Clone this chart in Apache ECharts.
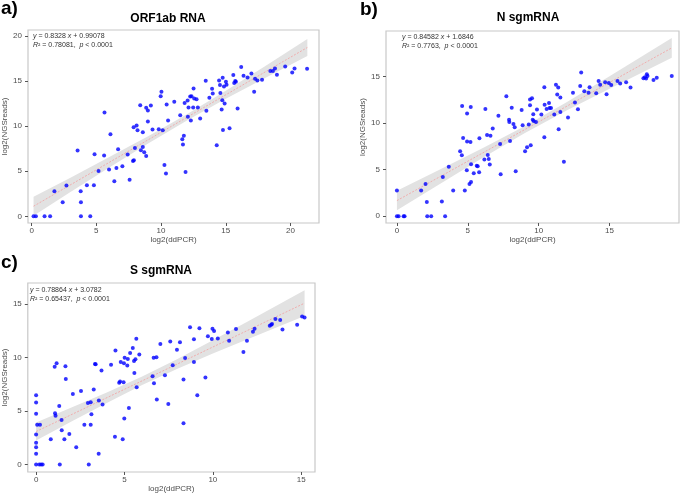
<!DOCTYPE html>
<html>
<head>
<meta charset="utf-8">
<script src="https://cdn.jsdelivr.net/npm/echarts@6/dist/echarts.min.js"></script>
<style>
  html, body { margin: 0; padding: 0; background: #fff; }
  #chart { width: 685px; height: 494px; }
</style>
</head>
<body>
<div id="chart"></div>
<script>
// a) ORF1ab RNA  [log2(ddPCR), log2(NGSreads)]
const orfPts = [
  [0.15,0],[0.33,0],[1.0,0],[1.43,0],[3.81,0],[4.53,0],
  [1.76,2.78],[2.69,3.41],[2.40,1.56],[3.79,2.78],[3.81,1.56],[3.55,7.30],[4.27,3.44],
  [4.81,3.44],[4.86,6.89],[5.17,5.04],[5.63,11.52],[5.60,6.74],[5.98,5.19],[6.09,9.11],
  [6.39,3.89],[6.55,5.37],[6.68,7.44],[7.01,5.56],[7.42,6.85],[7.57,4.07],[7.83,6.15],
  [7.88,9.89],[7.90,6.22],[7.98,7.59],[8.11,10.07],[8.18,9.56],[8.39,12.33],[8.44,7.33],
  [8.59,7.70],[8.59,9.33],[8.70,7.11],[8.85,6.70],[8.85,12.04],[8.98,11.74],[8.98,10.52],
  [9.21,12.30],[9.34,9.63],[9.82,9.67],[9.97,13.33],[10.03,13.81],[10.13,9.56],[10.26,5.70],
  [10.38,4.74],[10.43,12.41],[10.54,10.63],[11.02,12.70],[11.48,11.22],[11.64,8.56],[11.69,7.96],
  [11.76,8.93],[11.82,12.56],[11.89,4.93],[12.05,12.85],[12.07,11.04],[12.12,12.07],[12.25,13.30],
  [12.30,10.63],[12.35,13.33],[12.48,12.07],[12.51,14.19],[12.56,13.07],[12.74,13.0],[12.84,12.07],
  [13.02,10.85],[13.45,15.04],[13.50,11.70],[13.73,13.15],[13.94,14.15],[13.99,13.63],[14.30,7.89],
  [14.48,15.07],[14.55,14.56],[14.58,13.67],[14.68,11.85],[14.73,12.89],[14.76,15.37],[14.78,9.59],
  [14.86,14.41],[14.91,12.52],[15.01,14.93],[15.06,14.59],[15.29,9.78],[15.58,15.67],[15.65,14.78],
  [15.73,15.00],[15.78,14.93],[15.91,11.96],[16.19,16.56],[16.37,15.59],[16.68,15.41],[16.98,15.85],
  [17.19,13.81],[17.26,15.26],[17.44,15.07],[17.80,15.15],[18.44,16.11],[18.64,16.11],[18.80,16.41],
  [18.95,15.70],[19.59,16.63],[20.13,15.96],[20.31,16.41],[21.28,16.37]
];
// b) N sgmRNA
const nPts = [
  [0,0],[0.12,0],[0.47,0],[0.54,0],[2.14,0],[2.42,0],[3.40,0],
  [0,2.76],[1.71,2.76],[2.02,3.47],[2.11,1.54],[3.17,1.58],[3.24,4.22],[3.66,5.33],[3.97,2.76],
  [4.46,6.98],[4.58,6.55],[4.60,11.85],[4.67,8.41],[4.79,2.76],[4.93,4.94],[4.95,8.02],[4.95,11.03],
  [5.12,3.47],[5.19,7.98],[5.21,11.74],[5.23,5.59],[5.23,3.69],[5.42,4.62],[5.63,5.44],[5.70,5.37],
  [5.80,4.73],[5.82,8.38],[6.17,6.09],[6.24,11.53],[6.36,8.74],[6.41,6.59],[6.48,6.16],[6.55,5.55],
  [6.60,8.66],[6.76,9.42],[7.16,10.81],[7.28,7.77],[7.32,4.51],[7.72,12.89],[7.91,10.38],[7.93,10.13],
  [7.98,8.09],[8.10,11.67],[8.22,9.92],[8.31,9.56],[8.38,4.83],[8.80,11.42],[8.87,9.77],[9.04,6.98],
  [9.18,7.41],[9.30,9.85],[9.39,12.53],[9.39,11.92],[9.44,7.63],[9.53,12.67],[9.58,10.38],[9.62,10.96],
  [9.65,10.24],[9.81,10.13],[9.88,11.46],[10.19,10.92],[10.40,13.86],[10.42,11.99],[10.40,8.49],
  [10.56,11.53],[10.73,12.17],[10.77,11.64],[10.87,11.64],[11.10,10.92],[11.22,14.14],[11.31,13.07],
  [11.38,13.82],[11.41,9.35],[11.53,12.75],[11.53,11.21],[11.78,5.87],[12.07,10.60],[12.42,13.28],
  [12.56,12.21],[12.77,11.49],[12.93,14.00],[13.00,15.43],[13.22,13.43],[13.52,13.28],[13.59,13.86],
  [14.06,13.21],[14.23,14.54],[14.34,14.14],[14.69,14.39],[14.79,13.10],[14.95,14.32],[15.12,14.11],
  [15.56,14.54],[15.75,14.25],[16.17,14.39],[16.48,13.82],[17.39,14.82],[17.49,14.93],[17.58,14.79],
  [17.63,15.25],[17.68,15.07],[18.10,14.64],[18.33,14.89],[19.39,15.07]
];
// c) S sgmRNA
const sPts = [
  [0,0],[0,1.01],[0,1.62],[0,2.04],[0,2.80],[0,4.73],[0,5.79],[0,6.46],
  [0.06,3.72],[0.22,3.72],[0.18,0],[0.28,0],[0.37,0],[0.83,2.35],[1.05,9.12],[1.07,4.79],[1.10,4.54],
  [1.16,9.45],[1.31,5.46],[1.34,0],[1.44,4.15],[1.45,3.20],[1.60,2.35],[1.66,9.18],[1.68,7.99],
  [1.88,2.84],[2.08,6.59],[2.27,1.62],[2.54,6.86],[2.73,3.72],[2.93,5.73],[2.98,0],[3.09,5.82],
  [3.09,3.72],[3.13,4.70],[3.26,7.01],[3.33,9.39],[3.37,9.36],[3.54,1.01],[3.55,5.98],[3.70,8.78],
  [3.76,5.61],[4.24,9.30],[4.46,2.59],[4.49,10.64],[4.70,7.62],[4.75,7.74],[4.79,9.57],[4.90,2.35],
  [4.95,7.68],[4.97,9.45],[4.99,4.30],[5.01,9.97],[5.16,9.24],[5.19,9.85],[5.25,5.27],[5.32,10.40],
  [5.47,10.88],[5.54,9.66],[5.56,8.54],[5.62,9.82],[5.67,11.74],[5.69,7.20],[5.84,10.27],[6.59,8.23],
  [6.65,9.97],[6.67,7.59],[6.81,10.0],[6.83,6.07],[7.03,11.25],[7.29,8.32],[7.48,5.64],[7.59,11.49],
  [7.73,9.27],[7.97,10.70],[8.14,11.40],[8.34,7.93],[8.34,3.84],[8.43,9.94],[8.71,12.80],[8.93,11.68],
  [8.93,9.57],[9.12,6.46],[9.24,12.71],[9.58,8.11],[9.72,11.98],[9.94,11.71],[9.98,12.68],[10.07,12.47],
  [10.28,11.77],[10.85,12.32],[10.92,11.55],[11.31,12.65],[11.73,10.49],[11.93,11.55],[12.27,12.38],
  [12.36,12.68],[13.22,12.96],[13.30,13.05],[13.35,13.11],[13.54,13.57],[13.81,13.48],[13.94,12.59],
  [14.77,13.05],[15.05,13.81],[15.19,13.72]
];

// fitted lines and grey confidence bands
const orfFit = [[0.15,1.12],[21.3,18.73]];
const orfBandX = [0.15,3,6,9,12,15,18,21.3];
const orfBandLo = [0.07,2.69,5.41,8.09,10.63,13.03,15.33,17.78];
const orfBandHi = [2.17,4.29,6.57,8.89,11.33,13.93,16.63,19.68];

const nFit = [[0,1.685],[19.39,18.085]];
const nBandX = [0,3,6,9,12,15,19.39];
const nBandLo = [0.64,3.44,6.24,8.92,11.38,13.69,17.04];
const nBandHi = [2.74,5.00,7.28,9.68,12.28,15.05,19.14];

const sFit = [[0,3.078],[15.19,15.058]];
const sBandX = [0,2,4,6,8,10,12,15.19];
const sBandLo = [2.23,4.01,5.75,7.41,8.94,10.35,11.72,13.86];
const sBandHi = [3.93,5.31,6.71,8.21,9.84,11.59,13.36,16.26];

const xTicksA = [0,5,10,15,20];
const yTicksA = [0,5,10,15,20];
const xTicksB = [0,5,10,15,20];
const yTicksB = [0,5,10,15];
const xTicksC = [0,5,10,15];
const yTicksC = [0,5,10,15];

const FONT = '"Liberation Sans", Arial, Helvetica, sans-serif';

const panels = [
  { pts: orfPts, fit: orfFit, bx: orfBandX, lo: orfBandLo, hi: orfBandHi,
    grid: { left: 27, top: 30, width: 292, height: 193 },
    x: [-0.28, 22.2], y: [-0.74, 20.67], xt: xTicksA, yt: yTicksA, yGap: 19 },
  { pts: nPts, fit: nFit, bx: nBandX, lo: nBandLo, hi: nBandHi,
    grid: { left: 386, top: 31, width: 293, height: 192 },
    x: [-0.77, 19.9], y: [-0.72, 19.9], xt: xTicksB, yt: yTicksB, yGap: 15 },
  { pts: sPts, fit: sFit, bx: sBandX, lo: sBandLo, hi: sBandHi,
    grid: { left: 21, top: 283, width: 294, height: 194 },
    x: [-0.47, 15.78], y: [-0.70, 16.94], xt: xTicksC, yt: yTicksC, yGap: 17 }
];

const grids = [], xAxes = [], yAxes = [], series = [];
panels.forEach(function (p, i) {
  grids.push(Object.assign({ show: true, borderColor: '#c8c8c8', borderWidth: 1.2, backgroundColor: '#fff' }, p.grid));
  xAxes.push({
    type: 'value', gridIndex: i, min: p.x[0], max: p.x[1],
    name: 'log2(ddPCR)', nameLocation: 'middle', nameGap: 13,
    nameTextStyle: { fontSize: 8, color: '#4d4d4d', fontFamily: FONT },
    axisLine: { show: false, onZero: false },
    axisTick: { show: true, length: 3, customValues: p.xt, lineStyle: { color: '#555' } },
    axisLabel: { customValues: p.xt, fontSize: 8, color: '#4d4d4d', margin: 4, fontFamily: FONT },
    splitLine: { show: false }
  });
  yAxes.push({
    type: 'value', gridIndex: i, min: p.y[0], max: p.y[1],
    name: 'log2(NGSreads)', nameLocation: 'middle', nameGap: p.yGap,
    nameTextStyle: { fontSize: 8, color: '#4d4d4d', fontFamily: FONT },
    axisLine: { show: false, onZero: false },
    axisTick: { show: true, length: 3, customValues: p.yt, lineStyle: { color: '#555' } },
    axisLabel: { customValues: p.yt, fontSize: 8, color: '#4d4d4d', margin: 6, fontFamily: FONT },
    splitLine: { show: false }
  });
  // grey confidence band as one polygon through the axis scales
  series.push({
    type: 'custom', xAxisIndex: i, yAxisIndex: i, silent: true, z: 1,
    data: [[p.bx[0], p.lo[0]]],
    renderItem: function (params, api) {
      const upper = p.bx.map(function (x, k) { return api.coord([x, p.hi[k]]); });
      const lower = p.bx.map(function (x, k) { return api.coord([x, p.lo[k]]); }).reverse();
      return {
        type: 'polygon',
        shape: { points: upper.concat(lower) },
        style: { fill: '#e2e2e2' }
      };
    }
  });
  series.push({
    type: 'line', xAxisIndex: i, yAxisIndex: i, symbol: 'none', silent: true, z: 2,
    lineStyle: { color: '#f2a0a0', width: 0.8, type: [2, 1.5] },
    data: p.fit
  });
  series.push({
    type: 'scatter', xAxisIndex: i, yAxisIndex: i, symbol: 'circle', symbolSize: 4, z: 3,
    itemStyle: { color: '#0000ff' },
    data: p.pts
  });
});

function label(t, x, y) {
  return { type: 'text', x: x, y: y, style: { text: t, font: 'bold 19px ' + FONT, fill: '#000', verticalAlign: 'middle' } };
}
function title(t, x, y) {
  return { type: 'text', x: x, y: y, style: { text: t, font: 'bold 12px ' + FONT, fill: '#000', align: 'center', verticalAlign: 'middle' } };
}
function note(l1, l2, x, y) {
  return {
    type: 'text', x: x, y: y, z: 10,
    style: {
      text: '{i|y} = ' + l1 + '\n{i|R}² = ' + l2,
      font: '7px ' + FONT, fill: '#333', lineHeight: 9,
      rich: { i: { fontStyle: 'italic', fontSize: 7, fontFamily: FONT, fill: '#333' } }
    }
  };
}

const option = {
  animation: false,
  grid: grids,
  xAxis: xAxes,
  yAxis: yAxes,
  series: series,
  graphic: [
    label('a)', 1, 9), label('b)', 360, 10), label('c)', 1, 263),
    title('ORF1ab RNA', 168, 19), title('N sgmRNA', 528, 18), title('S sgmRNA', 161, 271),
    note('0.8328 {i|x} + 0.99078', '0.78081,  {i|p} < 0.0001', 33, 32),
    note('0.84582 {i|x} + 1.6846', '0.7763,  {i|p} < 0.0001', 402, 33),
    note('0.78864 {i|x} + 3.0782', '0.65437,  {i|p} < 0.0001', 30, 286)
  ]
};

const chart = echarts.init(document.getElementById('chart'), null, { renderer: 'canvas' });
chart.setOption(option);
window.addEventListener('resize', function () { chart.resize(); });
</script>
</body>
</html>
